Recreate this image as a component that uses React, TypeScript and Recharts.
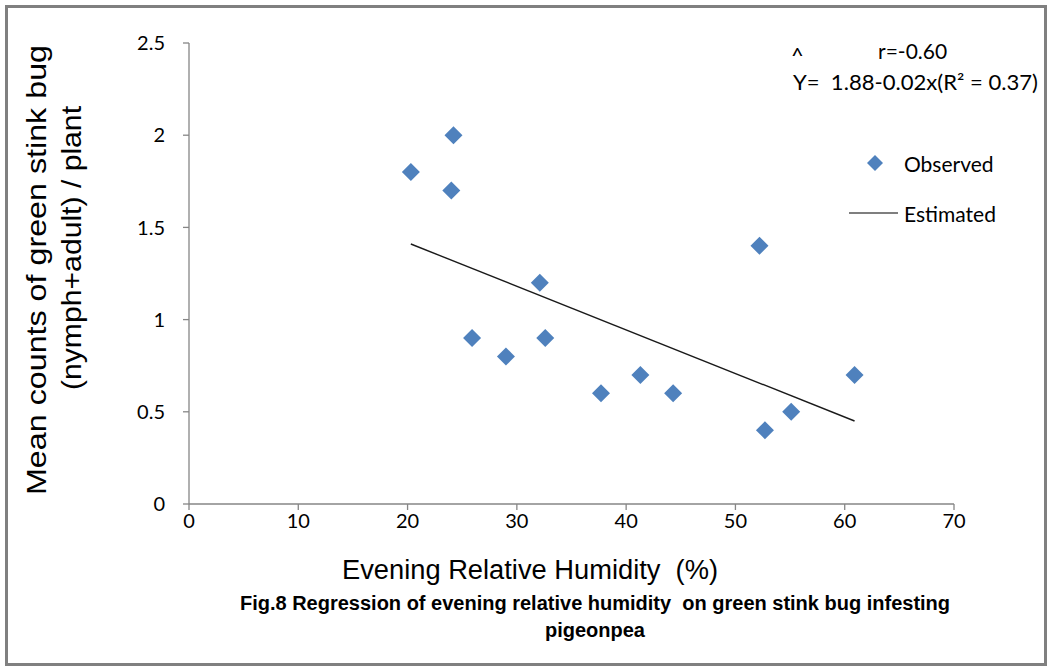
import React from 'react';
import { ScatterChart, Scatter, XAxis, YAxis, Legend } from 'recharts';

// Evening relative humidity (%) for each observation
const humidity = [20.3, 24.2, 24.0, 32.1, 25.9, 29.0, 32.6, 37.7, 41.3, 44.3, 52.2, 52.7, 55.1, 60.9];
// Mean counts of green stink bug (nymph+adult) / plant
const bugCount = [1.8, 2.0, 1.7, 1.2, 0.9, 0.8, 0.9, 0.6, 0.7, 0.6, 1.4, 0.4, 0.5, 0.7];
// Estimated (regression) line end points
const trendHumidity = [20.3, 60.9];
const trendCount = [1.41, 0.45];

const xTicks = [0, 10, 20, 30, 40, 50, 60, 70];
const yTicks = [0, 0.5, 1, 1.5, 2, 2.5];
const yTickLabels = ['0', '0.5', '1', '1.5', '2', '2.5'];

const seriesNames = ['Observed', 'Estimated'];
const annotationLines = ['^', 'r=-0.60', 'Y=  1.88-0.02x(R\u00B2 = 0.37)'];
const xTitle = 'Evening Relative Humidity  (%)';
const yTitleLines = ['Mean counts of green stink bug', '(nymph+adult) / plant'];
const captionLines = ['Fig.8 Regression of evening relative humidity  on green stink bug infesting', 'pigeonpea'];

const observed = humidity.map((x, i) => ({ x, y: bugCount[i] }));
const estimated = trendHumidity.map((x, i) => ({ x, y: trendCount[i] }));

const BLUE = '#4F81BD';
const AXIS = '#868686';
const TICK_FONT = 'Lato, "Open Sans", sans-serif';
const ARIAL = '"Liberation Sans", Arial, sans-serif';

const Diamond = (props: any) => {
  const { cx, cy } = props;
  if (cx == null || cy == null) return <g />;
  const r = 9;
  return (
    <polygon
      points={`${cx},${cy - r} ${cx + r},${cy} ${cx},${cy + r} ${cx - r},${cy}`}
      fill={BLUE}
    />
  );
};

const NoDot = () => <g />;

const LegendContent = () => {
  return (
    <svg width={200} height={95} style={{ overflow: 'visible' }}>
      {seriesNames.map((name: string, i: number) => {
        const y = 18 + i * 50;
        return (
          <g key={name}>
            {name === 'Observed' ? (
              <polygon points={`35,${y - 8} 43,${y} 35,${y + 8} 27,${y}`} fill={BLUE} />
            ) : (
              <line x1={9} y1={y} x2={58} y2={y} stroke="#000" strokeWidth={1.2} />
            )}
            <text x={64} y={y} dominantBaseline="central" fontFamily={TICK_FONT} fontSize={21} fill="#000">
              {name}
            </text>
          </g>
        );
      })}
    </svg>
  );
};

export default function App() {
  return (
    <div style={{ position: 'absolute', left: 0, top: 0, width: 1049, height: 669, background: '#fff' }}>
      <ScatterChart
        width={1049}
        height={669}
        margin={{ top: 43, right: 95, bottom: 135, left: 129 }}
      >
        <XAxis
          type="number"
          dataKey="x"
          domain={[0, 70]}
          ticks={xTicks}
          interval={0}
          tickSize={6}
          tickMargin={4}
          axisLine={{ stroke: AXIS, strokeWidth: 1.3 }}
          tickLine={{ stroke: AXIS, strokeWidth: 1.3 }}
          tick={{ fill: '#000', fontSize: 20, fontFamily: TICK_FONT }}
          height={30}
        />
        <YAxis
          type="number"
          dataKey="y"
          domain={[0, 2.5]}
          ticks={yTicks}
          interval={0}
          tickSize={6}
          tickMargin={18}
          width={60}
          axisLine={{ stroke: AXIS, strokeWidth: 1.3 }}
          tickLine={{ stroke: AXIS, strokeWidth: 1.3 }}
          tick={{ fill: '#000', fontSize: 20, fontFamily: TICK_FONT }}
          tickFormatter={(v: number) => yTickLabels[yTicks.indexOf(v)] ?? String(v)}
        />
        <Legend
          layout="vertical"
          align="center"
          verticalAlign="middle"
          wrapperStyle={{ left: 840, top: 145, width: 200, height: 95 }}
          content={<LegendContent />}
        />
        <Scatter
          name={seriesNames[0]}
          data={observed}
          shape={<Diamond />}
          isAnimationActive={false}
          legendType="diamond"
        />
        <Scatter
          name={seriesNames[1]}
          data={estimated}
          line={{ stroke: '#1a1a1a', strokeWidth: 1.4 }}
          shape={<NoDot />}
          isAnimationActive={false}
          legendType="line"
        />
      </ScatterChart>
      <svg
        width={1049}
        height={669}
        style={{ position: 'absolute', left: 0, top: 0, pointerEvents: 'none' }}
      >
        <rect x={6.5} y={6.5} width={1039} height={658} fill="none" stroke="#808080" strokeWidth={3} />
        <text x={791} y={54} dominantBaseline="central" fontFamily={TICK_FONT} fontSize={22} fill="#000">
          {annotationLines[0]}
        </text>
        <text x={878} y={50} dominantBaseline="central" fontFamily={TICK_FONT} fontSize={21} fill="#000">
          {annotationLines[1]}
        </text>
        <text
          x={793}
          y={81}
          dominantBaseline="central"
          fontFamily={TICK_FONT}
          fontSize={21}
          fill="#000"
          textLength={245}
          lengthAdjust="spacingAndGlyphs"
          style={{ whiteSpace: 'pre' }}
        >
          {annotationLines[2]}
        </text>
        <text
          x={342}
          y={570}
          dominantBaseline="central"
          fontFamily={ARIAL}
          fontSize={27}
          fill="#000"
          textLength={376}
          lengthAdjust="spacingAndGlyphs"
          style={{ whiteSpace: 'pre' }}
        >
          {xTitle}
        </text>
        {yTitleLines.map((line, i) => {
          const cx = 36 + i * 35;
          const cy = i === 0 ? 270 : 248;
          return (
            <text
              key={line}
              x={cx}
              y={cy}
              transform={`rotate(-90, ${cx}, ${cy})`}
              textAnchor="middle"
              dominantBaseline="central"
              fontFamily={ARIAL}
              fontSize={28}
              fill="#000"
              textLength={i === 0 ? 450 : 284}
              lengthAdjust="spacingAndGlyphs"
            >
              {line}
            </text>
          );
        })}
        <text
          x={595}
          y={603}
          textAnchor="middle"
          dominantBaseline="central"
          fontFamily={ARIAL}
          fontWeight="bold"
          fontSize={20}
          fill="#000"
          style={{ whiteSpace: 'pre' }}
        >
          {captionLines[0]}
        </text>
        <text
          x={595}
          y={630}
          textAnchor="middle"
          dominantBaseline="central"
          fontFamily={ARIAL}
          fontWeight="bold"
          fontSize={20}
          fill="#000"
        >
          {captionLines[1]}
        </text>
      </svg>
    </div>
  );
}
